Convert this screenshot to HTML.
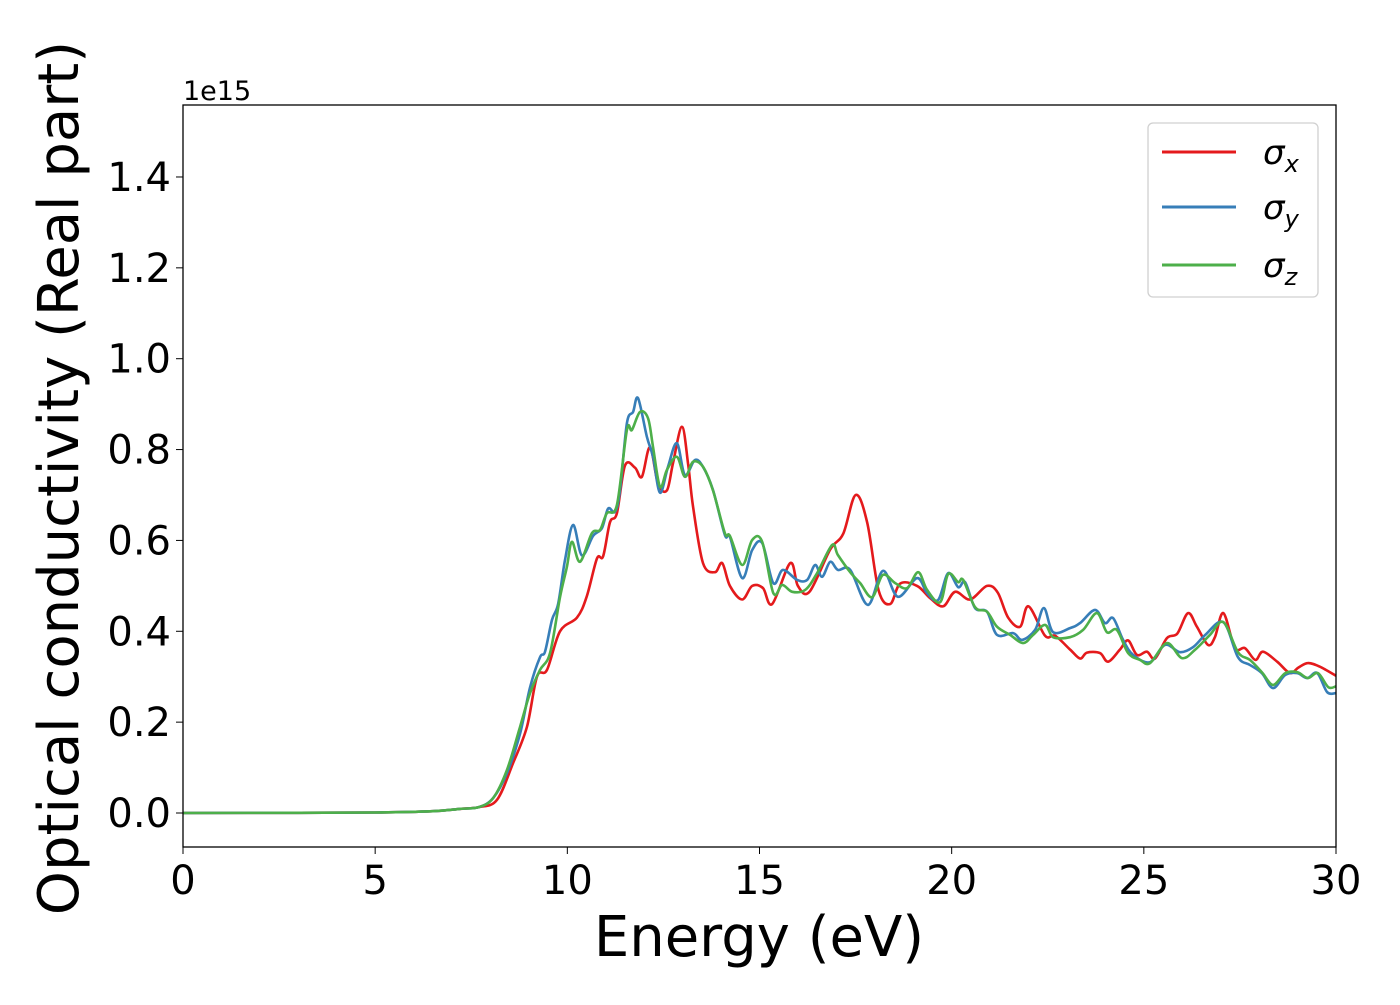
<!DOCTYPE html>
<html><head><meta charset="utf-8"><style>
body{margin:0;background:#fff;font-family:"Liberation Sans","DejaVu Sans",sans-serif}
svg text{font-family:"DejaVu Sans","Liberation Sans",sans-serif}
</style></head><body>
<svg id="chart" width="1400" height="1000" viewBox="0 0 1400 1000" xmlns="http://www.w3.org/2000/svg">
<rect width="1400" height="1000" fill="#fff"/>
<g id="series"></g>
<rect x="183" y="105" width="1153" height="742" fill="none" stroke="#000" stroke-width="1.3"/>
<g id="xticks"></g>
<g id="yticks"></g>
<text x="183" y="100" font-size="27">1e15</text>
<text x="759" y="956" font-size="56" text-anchor="middle">Energy (eV)</text>
<text transform="translate(78,478) rotate(-90)" font-size="56" text-anchor="middle">Optical conductivity (Real part)</text>
<g>
<rect x="1148" y="123" width="170" height="174" rx="5" fill="#fff" stroke="#ccc" stroke-width="1.3" opacity="0.9"/>
<line x1="1162" y1="152" x2="1236" y2="152" stroke="#e41a1c" stroke-width="3"/>
<text x="1263" y="164" font-size="34" font-style="italic">σ<tspan font-size="24" dy="8">x</tspan></text>
<line x1="1162" y1="207" x2="1236" y2="207" stroke="#377eb8" stroke-width="3"/>
<text x="1263" y="219" font-size="34" font-style="italic">σ<tspan font-size="24" dy="8">y</tspan></text>
<line x1="1162" y1="265" x2="1236" y2="265" stroke="#4daf4a" stroke-width="3"/>
<text x="1263" y="277" font-size="34" font-style="italic">σ<tspan font-size="24" dy="8">z</tspan></text>
</g>
</svg>
<script>
const xTicks=[0,5,10,15,20,25,30];
const yTicks=[0,0.2,0.4,0.6,0.8,1.0,1.2,1.4];
const yTickLabels=["0.0","0.2","0.4","0.6","0.8","1.0","1.2","1.4"];
const baseE=[0,3,5,6.5,7.2,7.7];
const baseV=[0,0.0005,0.001,0.004,0.009,0.013];
const xE=[8.17,8.59,8.95,9.21,9.47,9.81,10.25,10.5,10.77,10.93,11.11,11.29,11.5,11.76,11.94,12.15,12.36,12.59,12.75,12.98,13.14,13.27,13.53,13.84,14.03,14.23,14.55,14.81,15.09,15.33,15.8,16.0,16.3,16.84,17.18,17.5,17.8,18.1,18.4,18.66,19.1,19.44,19.78,20.09,20.48,20.92,21.2,21.47,21.78,22.0,22.43,22.69,23.08,23.34,23.52,23.86,24.07,24.38,24.59,24.82,25.08,25.29,25.6,25.87,26.15,26.38,26.67,26.85,27.07,27.37,27.63,27.9,28.1,28.47,28.8,29.02,29.27,29.58,30];
const xV=[0.029,0.11,0.19,0.30,0.315,0.40,0.43,0.475,0.56,0.565,0.64,0.66,0.765,0.76,0.74,0.805,0.725,0.71,0.77,0.85,0.77,0.675,0.55,0.53,0.55,0.50,0.47,0.50,0.495,0.46,0.55,0.50,0.487,0.58,0.615,0.70,0.64,0.49,0.46,0.505,0.50,0.473,0.455,0.487,0.47,0.50,0.485,0.43,0.41,0.455,0.39,0.39,0.36,0.34,0.353,0.352,0.333,0.36,0.38,0.348,0.355,0.34,0.385,0.395,0.44,0.41,0.37,0.387,0.44,0.363,0.363,0.337,0.355,0.333,0.308,0.32,0.33,0.322,0.302];
const yE=[8.07,8.43,8.77,9.03,9.29,9.42,9.6,9.76,9.94,10.15,10.38,10.67,10.9,11.06,11.24,11.37,11.55,11.71,11.84,12.07,12.23,12.41,12.62,12.85,13.06,13.32,13.53,13.79,14.1,14.23,14.55,14.81,15.07,15.36,15.61,15.98,16.24,16.45,16.63,16.84,17.04,17.36,17.82,18.21,18.6,19.1,19.36,19.65,19.91,20.17,20.35,20.61,20.92,21.18,21.6,21.83,22.17,22.4,22.64,23.08,23.34,23.73,23.99,24.2,24.46,24.72,25.16,25.55,25.94,26.28,26.6,27.07,27.45,27.76,28.07,28.36,28.68,28.99,29.25,29.51,29.77,30];
const yV=[0.033,0.088,0.175,0.277,0.343,0.355,0.425,0.46,0.557,0.634,0.567,0.61,0.627,0.67,0.663,0.71,0.858,0.883,0.913,0.828,0.784,0.705,0.762,0.814,0.744,0.777,0.762,0.711,0.612,0.608,0.517,0.579,0.594,0.506,0.535,0.513,0.513,0.546,0.52,0.553,0.535,0.535,0.458,0.533,0.476,0.517,0.484,0.469,0.528,0.497,0.508,0.451,0.443,0.392,0.396,0.381,0.403,0.451,0.398,0.407,0.418,0.447,0.418,0.429,0.381,0.348,0.332,0.37,0.354,0.365,0.392,0.42,0.343,0.326,0.308,0.275,0.304,0.308,0.297,0.308,0.266,0.264];
const zE=[8.07,8.43,8.77,9.03,9.29,9.55,9.81,9.99,10.12,10.33,10.64,10.85,11.03,11.29,11.55,11.68,11.89,12.1,12.23,12.41,12.59,12.85,13.06,13.27,13.53,13.79,14.1,14.23,14.55,14.81,15.07,15.36,15.59,15.85,16.19,16.5,16.89,17.04,17.36,17.62,17.93,18.21,18.53,18.84,19.13,19.36,19.7,19.91,20.17,20.3,20.61,20.92,21.18,21.52,21.86,22.12,22.43,22.64,23.08,23.42,23.78,24.04,24.3,24.59,24.9,25.16,25.6,25.99,26.33,26.72,27.07,27.45,27.76,28.07,28.36,28.68,28.99,29.27,29.53,29.8,30];
const zV=[0.033,0.095,0.19,0.264,0.315,0.352,0.475,0.542,0.597,0.553,0.616,0.623,0.66,0.678,0.843,0.843,0.883,0.869,0.806,0.718,0.755,0.784,0.74,0.773,0.762,0.71,0.616,0.61,0.546,0.601,0.597,0.484,0.502,0.487,0.491,0.528,0.59,0.568,0.53,0.506,0.475,0.524,0.506,0.495,0.53,0.491,0.464,0.526,0.508,0.513,0.453,0.443,0.41,0.392,0.374,0.392,0.414,0.387,0.387,0.403,0.44,0.398,0.403,0.352,0.337,0.33,0.374,0.341,0.359,0.392,0.42,0.354,0.337,0.31,0.282,0.308,0.31,0.297,0.308,0.277,0.279];

const NS='http://www.w3.org/2000/svg';
const X=e=>183+e*(1153/30);
const Y=v=>813-v*454.3;
function path(E,V){
  const p=E.map((e,i)=>[X(e),Y(V[i])]);
  let d='M'+p[0][0].toFixed(1)+','+p[0][1].toFixed(1);
  for(let i=0;i<p.length-1;i++){
    const p0=p[Math.max(0,i-1)],p1=p[i],p2=p[i+1],p3=p[Math.min(p.length-1,i+2)];
    const c1=[p1[0]+(p2[0]-p0[0])/6,p1[1]+(p2[1]-p0[1])/6];
    const c2=[p2[0]-(p3[0]-p1[0])/6,p2[1]-(p3[1]-p1[1])/6];
    d+=' C'+c1[0].toFixed(1)+','+c1[1].toFixed(1)+' '+c2[0].toFixed(1)+','+c2[1].toFixed(1)+' '+p2[0].toFixed(1)+','+p2[1].toFixed(1);
  }
  return d;
}
const sg=document.getElementById('series');
[[xE,xV,'#e41a1c','series-sigma-x'],[yE,yV,'#377eb8','series-sigma-y'],[zE,zV,'#4daf4a','series-sigma-z']].forEach(s=>{
  const el=document.createElementNS(NS,'path');
  el.setAttribute('d',path(baseE.concat(s[0]),baseV.concat(s[1])));
  el.setAttribute('fill','none');el.setAttribute('stroke',s[2]);el.setAttribute('stroke-width','2.6');
  
  
  sg.appendChild(el);
});
const xg=document.getElementById('xticks');
xTicks.forEach(t=>{
  const l=document.createElementNS(NS,'line');
  l.setAttribute('x1',X(t));l.setAttribute('x2',X(t));l.setAttribute('y1',847);l.setAttribute('y2',854);l.setAttribute('stroke','#000');
  
  
  xg.appendChild(l);
  const tx=document.createElementNS(NS,'text');
  tx.setAttribute('x',X(t));tx.setAttribute('y',894);tx.setAttribute('font-size','40');tx.setAttribute('text-anchor','middle');
  tx.textContent=String(t);
  
  
  xg.appendChild(tx);
});
const yg=document.getElementById('yticks');
yTicks.forEach((t,i)=>{
  const l=document.createElementNS(NS,'line');
  l.setAttribute('x1',176);l.setAttribute('x2',183);l.setAttribute('y1',Y(t));l.setAttribute('y2',Y(t));l.setAttribute('stroke','#000');
  
  
  yg.appendChild(l);
  const tx=document.createElementNS(NS,'text');
  tx.setAttribute('x',171);tx.setAttribute('y',Y(t)+14);tx.setAttribute('font-size','40');tx.setAttribute('text-anchor','end');
  tx.textContent=yTickLabels[i];
  
  
  yg.appendChild(tx);
});
</script>
</body></html>
